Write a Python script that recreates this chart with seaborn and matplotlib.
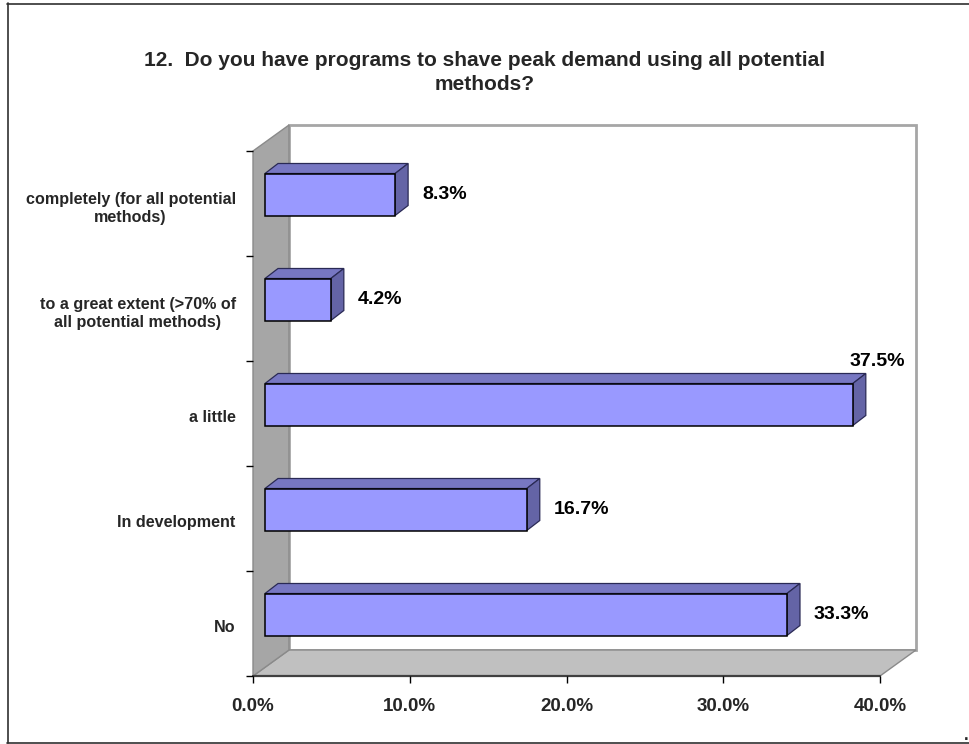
import numpy as np
import pandas as pd
import matplotlib
matplotlib.use("Agg")
import matplotlib.pyplot as plt
import matplotlib.transforms as mtransforms
from matplotlib.patches import Polygon, Rectangle
from matplotlib.lines import Line2D
import seaborn as sns

# ---- data ----
categories = [
    "completely (for all potential\nmethods)",
    "to a great extent (>70% of\nall potential methods)",
    "a little",
    "In development",
    "No",
]
values = [8.3, 4.2, 37.5, 16.7, 33.3]
x_ticks = [0, 10, 20, 30, 40]
x_tick_labels = ["0.0%", "10.0%", "20.0%", "30.0%", "40.0%"]
title = "12.  Do you have programs to shave peak demand using all potential\nmethods?"

sns.set_style("white")
plt.rcParams["font.family"] = ["Liberation Sans", "DejaVu Sans"]
plt.rcParams["font.weight"] = "bold"

W, H = 969, 744
fig = plt.figure(figsize=(W / 100, H / 100), dpi=100)
fig.patch.set_facecolor("white")

# front plane of the 3-D plot box (pixel layout)
left_px, right_px, top_px, bottom_px = 253, 880, 151, 676
ax = fig.add_axes([left_px / W, 1 - bottom_px / H,
                   (right_px - left_px) / W, (bottom_px - top_px) / H])
ax.patch.set_visible(False)

# 3-D depth offsets in pixels (x right, y up)
DX, DY = 36, 26          # wall depth
BOX, BOY = 12, 9         # plane in which the bar fronts sit
BDX, BDY = 13, 10        # bar depth

df = pd.DataFrame({"category": categories, "value": values})
sns.barplot(data=df, x="value", y="category", orient="h", color="#9999ff",
            saturation=1, width=0.4, edgecolor="black", linewidth=1.1,
            ax=ax, zorder=3)

ax.set_xlim(0, 40)
ax.set_ylim(len(categories) - 0.5, -0.5)
for s in ax.spines.values():
    s.set_visible(False)

ident = mtransforms.IdentityTransform()
to_disp = ax.transAxes.transform

# walls and floor
fl_b = to_disp((0, 0))
fl_t = to_disp((0, 1))
fr_b = to_disp((1, 0))
fr_t = to_disp((1, 1))
d = np.array([DX, DY])

back = Rectangle(fl_b + d, (fr_b - fl_b)[0], (fl_t - fl_b)[1],
                 facecolor="white", edgecolor="#a6a6a6", linewidth=2,
                 transform=ident, zorder=0.2, clip_on=False)
ax.add_patch(back)
floor = Polygon([fl_b, fr_b, fr_b + d, fl_b + d], closed=True,
                facecolor="#c0c0c0", edgecolor="#8a8a8a", linewidth=1,
                transform=ident, zorder=0.3, clip_on=False)
ax.add_patch(floor)
lwall = Polygon([fl_b, fl_t, fl_t + d, fl_b + d], closed=True,
                facecolor="#a6a6a6", edgecolor="#8a8a8a", linewidth=1,
                transform=ident, zorder=0.4, clip_on=False)
ax.add_patch(lwall)
ax.add_line(Line2D([fl_b[0], fr_b[0]], [fl_b[1], fr_b[1]], color="#404040",
                   linewidth=1.6, transform=ident, zorder=0.5, clip_on=False))

# bars: shift fronts into their plane and add top / side faces
bar_off = mtransforms.offset_copy(ax.transData, fig=fig, x=BOX, y=BOY, units="dots")
bar_patches = [p for p in ax.patches if p.get_zorder() == 3]
for p in bar_patches:
    p.set_transform(bar_off)
    x0, y0 = p.get_x(), p.get_y()
    x1, y1 = x0 + p.get_width(), y0 + p.get_height()
    a = bar_off.transform((x0, y0))
    b = bar_off.transform((x1, y1))
    xl, xr = min(a[0], b[0]), max(a[0], b[0])
    yb, yt = min(a[1], b[1]), max(a[1], b[1])
    top = Polygon([(xl, yt), (xr, yt), (xr + BDX, yt + BDY), (xl + BDX, yt + BDY)],
                  closed=True, facecolor="#7777c2", edgecolor="#2a2a55",
                  linewidth=0.9, transform=ident, zorder=2.5, clip_on=False)
    side = Polygon([(xr, yb), (xr, yt), (xr + BDX, yt + BDY), (xr + BDX, yb + BDY)],
                   closed=True, facecolor="#6464a6", edgecolor="#2a2a55",
                   linewidth=0.9, transform=ident, zorder=2.5, clip_on=False)
    ax.add_patch(top)
    ax.add_patch(side)

# value labels
for i, v in enumerate(values):
    txt = f"{v:.1f}%"
    if v > 0.85 * ax.get_xlim()[1]:
        tr = mtransforms.offset_copy(ax.transData, fig=fig,
                                     x=BOX + BDX + 11, y=BOY + BDY + 3, units="dots")
        ax.text(v, i - 0.2, txt, transform=tr, ha="center", va="bottom",
                fontsize=14, fontweight="bold", color="black", zorder=5)
    else:
        tr = mtransforms.offset_copy(ax.transData, fig=fig,
                                     x=BOX + BDX + 14, y=BOY, units="dots")
        ax.text(v, i, txt, transform=tr, ha="left", va="center",
                fontsize=14, fontweight="bold", color="black", zorder=5)

# axes ticks
ax.set_xticks(x_ticks)
ax.set_xticklabels(x_tick_labels, fontsize=13.5, fontweight="bold")
ax.tick_params(axis="x", length=5, width=1, color="black", pad=10.5,
               direction="out", bottom=True)
ax.set_yticks(range(len(categories)))
ax.set_yticklabels(categories, fontsize=11.6, fontweight="bold")
ax.set_yticks(np.arange(-0.5, len(categories), 1.0), minor=True)
ax.tick_params(axis="y", which="major", length=0, pad=12.5, left=True)
ax.tick_params(axis="y", which="minor", length=5, width=1, color="black",
               direction="out", left=True)
shift_down = mtransforms.Affine2D().translate(0, -2)
for lbl in ax.get_yticklabels():
    lbl.set_multialignment("center")
    lbl.set_linespacing(1.28)
    lbl.set_transform(lbl.get_transform() + shift_down)
ax.set_xlabel("")
ax.set_ylabel("")

# title
fig.text(485 / W, 1 - 72.5 / H, title, ha="center", va="center", fontsize=15,
         fontweight="bold", linespacing=1.35)

# outer frame
frame_kw = dict(color="#303030", linewidth=1.2, transform=fig.transFigure)
fig.add_artist(Line2D([7 / W, 1], [1 - 3.5 / H, 1 - 3.5 / H], **frame_kw))
fig.add_artist(Line2D([7.5 / W, 7.5 / W], [1 - 3 / H, 1 - 743 / H], **frame_kw))
fig.add_artist(Line2D([7 / W, 1], [1 - 742.5 / H, 1 - 742.5 / H], **frame_kw))
fig.text(966 / W, 1 - 735 / H, ".", ha="center", va="center", fontsize=12,
         fontweight="bold")

fig.savefig("out.png", dpi=100, facecolor="white")
